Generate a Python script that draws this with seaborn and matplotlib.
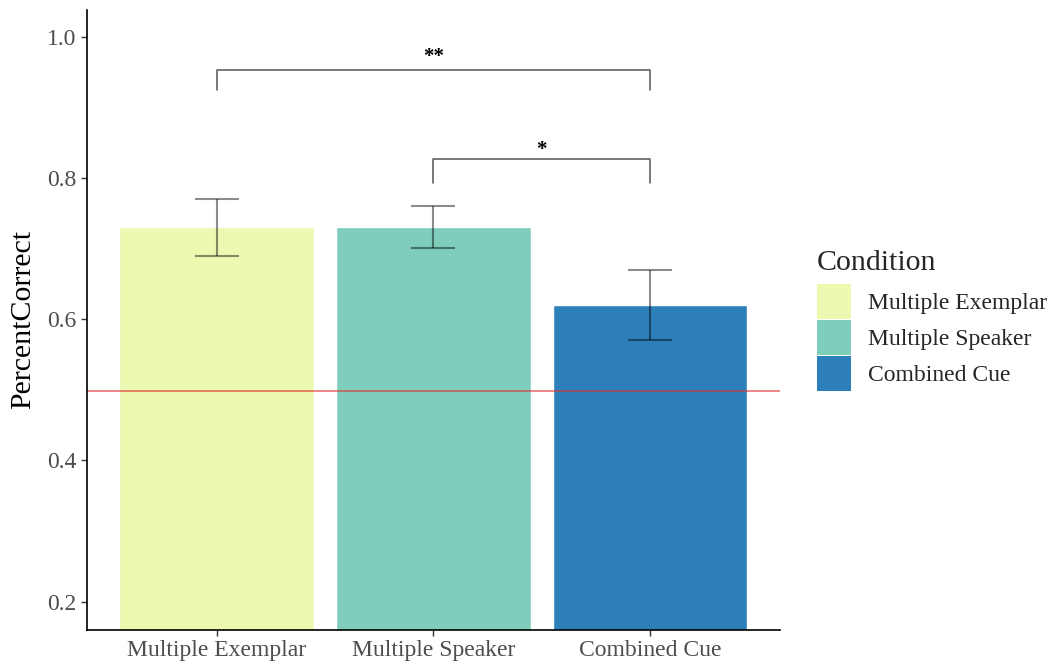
import matplotlib
matplotlib.use("Agg")
import matplotlib.pyplot as plt
import matplotlib.patches as mpatches
import seaborn as sns
import pandas as pd

# Dados
condicoes = ['Multiple Exemplar', 'Multiple Speaker', 'Combined Cue']
acertos = [0.73, 0.73, 0.62]
erro_inf = [0.69, 0.70, 0.57]
erro_sup = [0.77, 0.76, 0.67]
cores = ['#EDF8B1', '#7FCDBB', '#2C7FB8']

df = pd.DataFrame({'Condition': condicoes, 'PercentCorrect': acertos})

sns.set_style('white')
plt.rcParams['font.family'] = ['Liberation Serif', 'DejaVu Serif']

fig = plt.figure(figsize=(10.53, 6.67), dpi=100)
ax = fig.add_axes([0.0826, 0.0555, 0.658, 0.93])

sns.barplot(data=df, x='Condition', y='PercentCorrect', hue='Condition',
            palette=cores, order=condicoes, hue_order=condicoes,
            dodge=False, errorbar=None, width=0.9, saturation=1,
            legend=False, ax=ax)

# barras de erro
for i in range(len(condicoes)):
    ax.errorbar(i, acertos[i],
                yerr=[[acertos[i] - erro_inf[i]], [erro_sup[i] - acertos[i]]],
                fmt='none', ecolor='black', alpha=0.45, capsize=15.5,
                elinewidth=1.5, capthick=1.5)

# linha do acaso
ax.axhline(0.498, color='#DD3333', alpha=0.75, linewidth=1.1)

# colchetes de significância
def colchete(x1, x2, y_topo, y_base, texto, y_texto):
    ax.plot([x1, x1, x2, x2], [y_base, y_topo, y_topo, y_base],
            color='#555555', linewidth=1.1)
    ax.text((x1 + x2) / 2, y_texto, texto, ha='center', va='center',
            fontsize=15, fontweight='bold', color='black')

colchete(0, 2, 0.953, 0.925, '**', 0.971)
colchete(1, 2, 0.826, 0.793, '*', 0.840)

ax.set_xlim(-0.6, 2.6)
ax.set_ylim(0.16, 1.038)
ax.set_yticks([0.2, 0.4, 0.6, 0.8, 1.0])
ax.set_yticklabels(['0.2', '0.4', '0.6', '0.8', '1.0'])
ax.set_xlabel('')
ax.set_ylabel('PercentCorrect', fontsize=21.5, color='black', labelpad=8)

for s in ['top', 'right']:
    ax.spines[s].set_visible(False)
for s in ['left', 'bottom']:
    ax.spines[s].set_color('black')
    ax.spines[s].set_linewidth(1.2)
ax.tick_params(axis='both', labelsize=17, labelcolor='#4D4D4D',
               length=4, width=1, color='#333333', left=True, bottom=True)

# legenda
handles = [mpatches.Patch(facecolor=c, edgecolor='none', label=l)
           for c, l in zip(cores, condicoes)]
leg = fig.legend(handles=handles, title='Condition', loc='upper left',
                 bbox_to_anchor=(0.776, 0.615), frameon=False,
                 fontsize=17, title_fontsize=21.5, handlelength=1.45,
                 handleheight=1.9, handletextpad=0.7, labelspacing=0.05,
                 borderpad=0, borderaxespad=0, alignment='left')
leg.get_title().set_position((0, 7))

plt.savefig('out.png', dpi=100)
print('Gráfico feito')
